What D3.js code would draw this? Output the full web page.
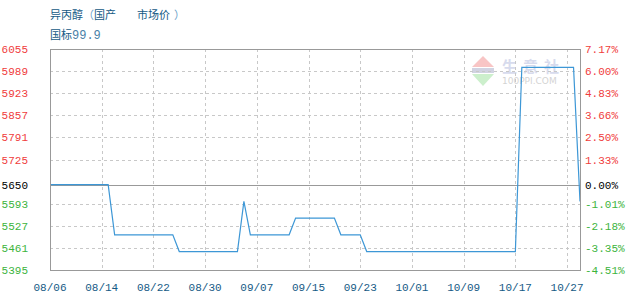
<!DOCTYPE html>
<html>
<head>
<meta charset="utf-8">
<script src="https://cdn.jsdelivr.net/npm/d3@7"></script>
<style>
  body { margin: 0; background: #fff; }
  svg { display: block; }
</style>
</head>
<body>
<div id="main"></div>
<script>
// data, one value per trading day (index 0 = 08/06)
const values = [
  5650, 5650, 5650, 5650, 5650, 5650, 5650, 5650, 5650, 5650,
  5500, 5500, 5500, 5500, 5500, 5500, 5500, 5500, 5500, 5500,
  5450, 5450, 5450, 5450, 5450, 5450, 5450, 5450, 5450, 5450,
  5600,
  5500, 5500, 5500, 5500, 5500, 5500, 5500,
  5550, 5550, 5550, 5550, 5550, 5550, 5550,
  5500, 5500, 5500, 5500,
  5450, 5450, 5450, 5450, 5450, 5450, 5450, 5450, 5450, 5450, 5450, 5450,
  5450, 5450, 5450, 5450, 5450, 5450, 5450, 5450, 5450, 5450, 5450, 5450,
  6000, 6000, 6000, 6000, 6000, 6000, 6000, 6000, 6000,
  5600
];
const xTickIndex = [0, 8, 16, 24, 32, 40, 48, 56, 64, 72, 80];
const xTickLabels = ["08/06", "08/14", "08/22", "08/30", "09/07", "09/15", "09/23", "10/01", "10/09", "10/17", "10/27"];
const yTicks = [6055, 5989, 5923, 5857, 5791, 5725, 5650, 5593, 5527, 5461, 5395];
const pctLabels = ["7.17%", "6.00%", "4.83%", "3.66%", "2.50%", "1.33%", "0.00%", "-1.01%", "-2.18%", "-3.35%", "-4.51%"];
const basePrice = 5650;

const width = 630, height = 300;
const plot = {left: 50, right: 580, top: 49, bottom: 270};

const svg = d3.select("#main")
  .append("svg")
  .attr("width", width)
  .attr("height", height);

const xScale = d3.scaleLinear()
  .domain([0, values.length - 1])
  .range([plot.left, plot.right]);
const yScale = d3.scaleLinear()
  .domain([5395, 6055])
  .range([plot.bottom, plot.top]);

const snap = v => Math.round(v) + 0.5;

// title
const title = svg.append("text")
  .attr("x", 50).attr("y", 19)
  .style("font-family", "'Noto Sans CJK SC', sans-serif")
  .style("font-size", "11px");
title.append("tspan").attr("fill", "#155a85").text("异丙醇");
title.append("tspan").attr("fill", "#6a9fc8").text("（");
title.append("tspan").attr("fill", "#155a85").text("国产");
title.append("tspan").attr("x", 137).attr("fill", "#155a85").text("市场价");
title.append("tspan").attr("x", 174).attr("fill", "#6a9fc8").text("）");

const sub = svg.append("text")
  .attr("x", 50).attr("y", 39)
  .style("font-size", "11px");
sub.append("tspan")
  .attr("fill", "#155a85")
  .style("font-family", "'Noto Sans CJK SC', sans-serif")
  .text("国标");
sub.append("tspan")
  .attr("fill", "#4a7fa8")
  .style("font-family", "'Liberation Mono', monospace")
  .style("font-size", "12px")
  .text("99.9");

// watermark
const wm = svg.append("g").attr("opacity", 0.45);
wm.append("path")
  .attr("d", "M483,56 L494,67 L472,67 Z")
  .attr("fill", "#f08080");
wm.append("rect")
  .attr("x", 472).attr("y", 68).attr("width", 22).attr("height", 5)
  .attr("fill", "#9aa0c0");
wm.append("path")
  .attr("d", "M472,74 L494,74 L483,86 Z")
  .attr("fill", "#90dc90");
wm.append("text")
  .attr("x", 502).attr("y", 72)
  .attr("fill", "#a8b0d8")
  .style("font-family", "'Noto Sans CJK SC', sans-serif")
  .style("font-size", "15px")
  .style("font-weight", "bold")
  .style("letter-spacing", "6px")
  .text("生意社");
wm.append("text")
  .attr("x", 502).attr("y", 84)
  .attr("fill", "#a0a0a0")
  .style("font-family", "'DejaVu Sans', sans-serif")
  .style("font-size", "9px")
  .text("100PPI.COM");

// grid
const grid = svg.append("g")
  .attr("stroke", "#c8c8c8")
  .attr("stroke-dasharray", "3,3")
  .attr("shape-rendering", "crispEdges");
grid.selectAll("line.h")
  .data(yTicks.filter(v => v !== basePrice && v !== 6055 && v !== 5395))
  .enter().append("line")
  .attr("x1", plot.left).attr("x2", plot.right)
  .attr("y1", d => snap(yScale(d))).attr("y2", d => snap(yScale(d)));
grid.selectAll("line.v")
  .data(xTickIndex.filter(i => i > 0))
  .enter().append("line")
  .attr("y1", plot.top).attr("y2", plot.bottom)
  .attr("x1", d => snap(xScale(d))).attr("x2", d => snap(xScale(d)));

// base line
svg.append("line")
  .attr("x1", plot.left).attr("x2", plot.right)
  .attr("y1", snap(yScale(basePrice))).attr("y2", snap(yScale(basePrice)))
  .attr("stroke", "#999")
  .attr("shape-rendering", "crispEdges");

// price line
const line = d3.line()
  .x((d, i) => xScale(i))
  .y(d => yScale(d));
svg.append("path")
  .datum(values)
  .attr("d", line)
  .attr("fill", "none")
  .attr("stroke", "#3d97d6")
  .attr("stroke-width", 1.2);

// border
svg.append("rect")
  .attr("x", plot.left + 0.5).attr("y", plot.top + 0.5)
  .attr("width", plot.right - plot.left).attr("height", plot.bottom - plot.top)
  .attr("fill", "none")
  .attr("stroke", "#999")
  .attr("shape-rendering", "crispEdges");

const tickColor = v => v > basePrice ? "#f03c3c" : (v < basePrice ? "#3cb43c" : "#000");

// left axis labels
svg.selectAll("text.yl")
  .data(yTicks)
  .enter().append("text")
  .attr("x", 28)
  .attr("y", d => yScale(d) + 4)
  .attr("text-anchor", "end")
  .attr("fill", tickColor)
  .style("font-family", "'Liberation Mono', monospace")
  .style("font-size", "11px")
  .text(d => d);

// right axis labels
svg.selectAll("text.yr")
  .data(yTicks)
  .enter().append("text")
  .attr("x", 585)
  .attr("y", d => yScale(d) + 4)
  .attr("fill", tickColor)
  .style("font-family", "'Liberation Mono', monospace")
  .style("font-size", "11px")
  .text((d, i) => pctLabels[i]);

// x axis labels
svg.selectAll("text.xl")
  .data(xTickIndex)
  .enter().append("text")
  .attr("x", d => xScale(d))
  .attr("y", 291)
  .attr("text-anchor", "middle")
  .attr("fill", "#155a85")
  .style("font-family", "'Liberation Mono', monospace")
  .style("font-size", "11px")
  .text((d, i) => xTickLabels[i]);
</script>
</body>
</html>
